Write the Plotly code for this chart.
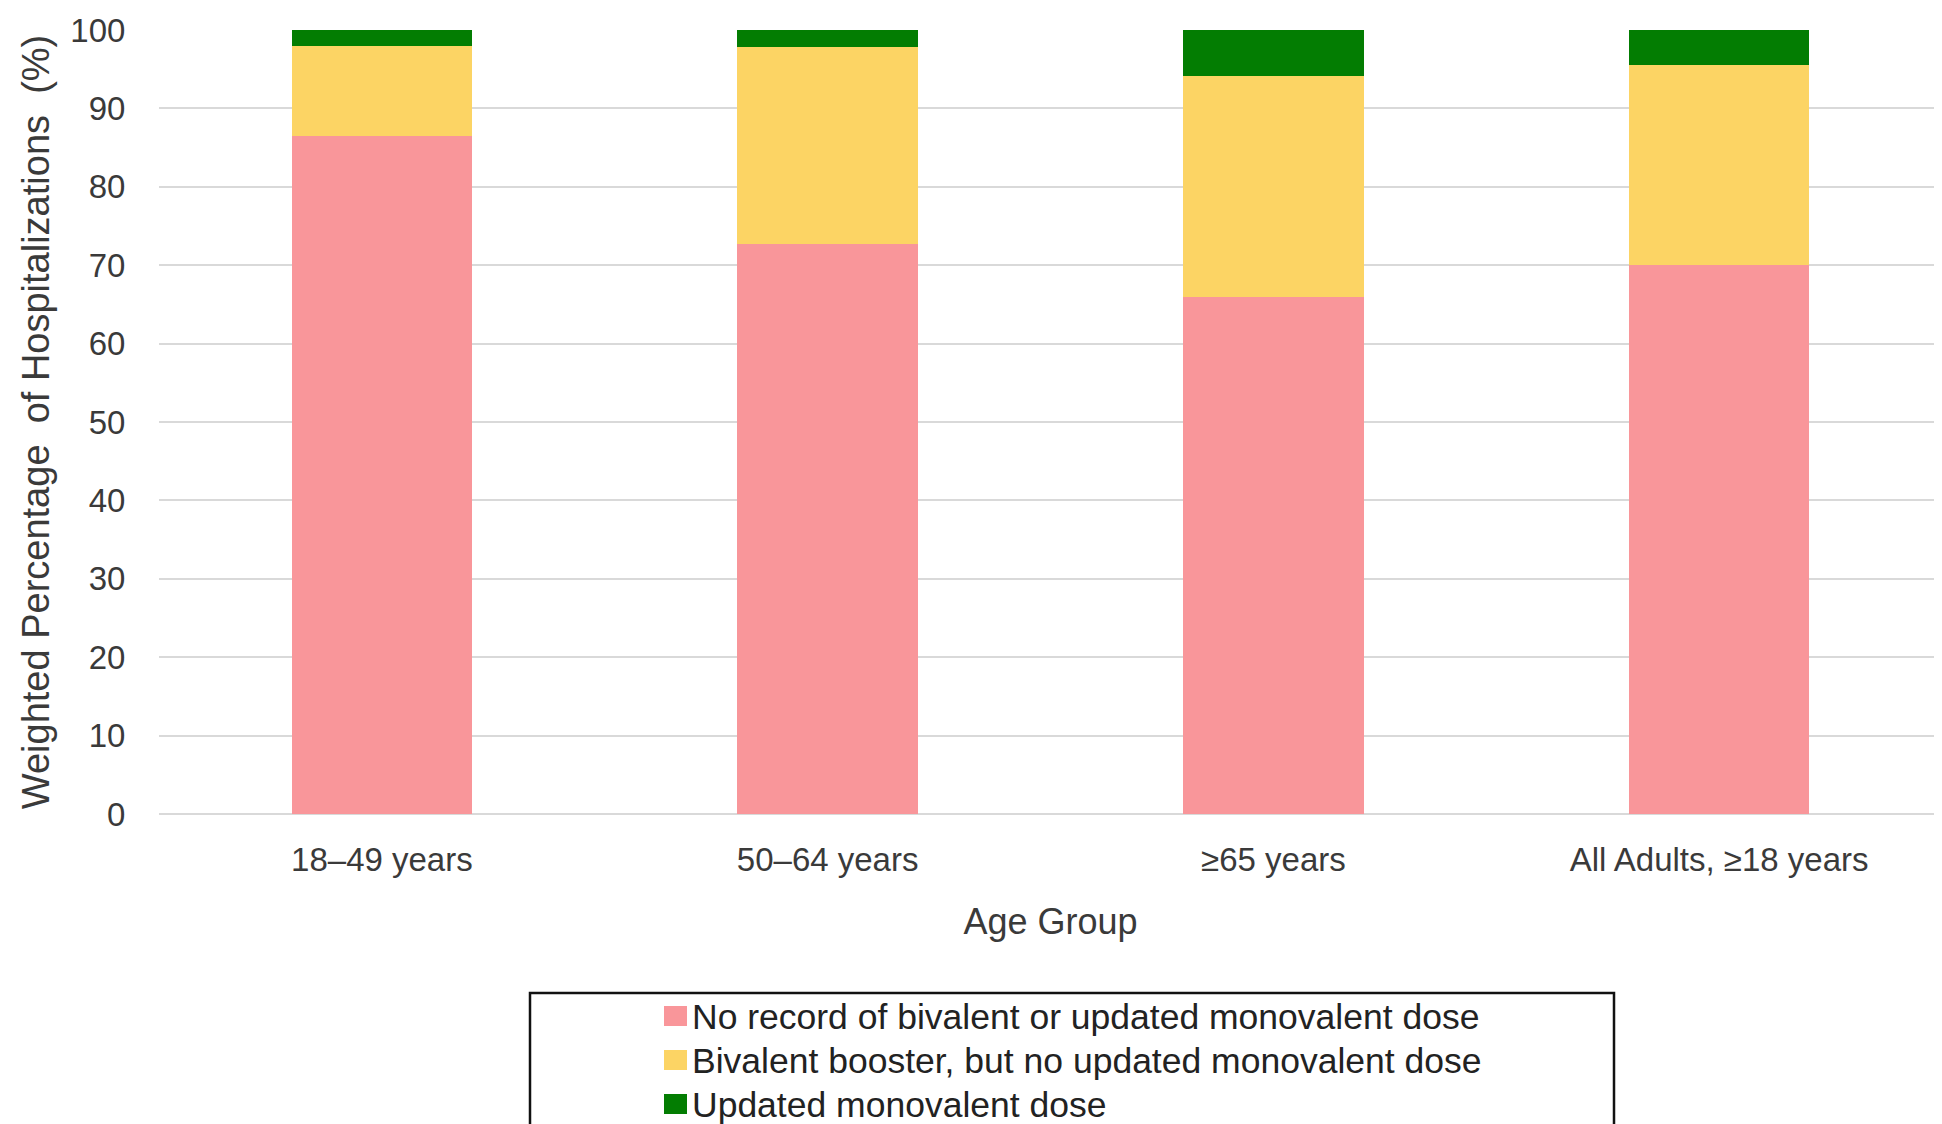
import plotly.graph_objects as go

categories = ["18–49 years", "50–64 years", "≥65 years", "All Adults, ≥18 years"]
series_names = [
    "No record of bivalent or updated monovalent dose",
    "Bivalent booster, but no updated monovalent dose",
    "Updated monovalent dose",
]
no_record = [86.5, 72.7, 66.0, 70.0]
bivalent_only = [11.4, 25.1, 28.1, 25.6]
updated_mono = [2.1, 2.2, 5.9, 4.4]
colors = ["#F9969A", "#FCD464", "#037D02"]
y_ticks = [0, 10, 20, 30, 40, 50, 60, 70, 80, 90, 100]

OFF = 8  # default page body margin
W, H = 1942 - OFF, 1124 - OFF
ML, MR, MT, MB = 151, 0, 22, 310
FONT = "Liberation Sans, Arial, sans-serif"
TXT = "#3a3a3a"

fig = go.Figure()
for i, (name, vals) in enumerate(zip(series_names, [no_record, bivalent_only, updated_mono])):
    fig.add_trace(go.Bar(
        x=categories, y=vals, name=name, marker_color=colors[i],
        marker_line_width=0, showlegend=False,
    ))

pw = W - ML - MR
ph = H - MT - MB

def px_x(x):
    return (x - OFF - ML) / pw

def px_y(y):
    return (H - MB - (y - OFF)) / ph

# custom legend (box + swatches + labels), laid out in page pixels
shapes = [dict(
    type="rect", xref="paper", yref="paper",
    x0=px_x(530), x1=px_x(1614), y0=px_y(1150), y1=px_y(993),
    line=dict(color="#111111", width=2.5), fillcolor="rgba(0,0,0,0)", layer="below",
)]
annotations = []
row_centers = [1016, 1060, 1104]
for i, name in enumerate(series_names):
    rc = row_centers[i]
    shapes.append(dict(
        type="rect", xref="paper", yref="paper",
        x0=px_x(664), x1=px_x(687), y0=px_y(rc + 10), y1=px_y(rc - 10),
        line=dict(width=0), fillcolor=colors[i], layer="above",
    ))
    annotations.append(dict(
        xref="paper", yref="paper", x=px_x(690), y=px_y(rc + 1),
        xanchor="left", yanchor="middle", showarrow=False, text=name,
        font=dict(family=FONT, size=35.5, color="#222222"),
    ))

fig.update_layout(
    width=W, height=H,
    margin=dict(l=ML, r=MR, t=MT, b=MB, pad=0, autoexpand=False),
    barmode="stack", bargap=0.595,
    plot_bgcolor="white", paper_bgcolor="white",
    font=dict(family=FONT, size=33, color=TXT),
    showlegend=False,
    shapes=shapes, annotations=annotations,
)
fig.update_xaxes(
    showgrid=False, showline=False, zeroline=False, automargin=False,
    ticks="outside", ticklen=16, tickcolor="rgba(0,0,0,0)",
    tickfont=dict(size=33, color=TXT),
    title=dict(text="Age Group", font=dict(size=36, color=TXT), standoff=32),
)
fig.update_yaxes(
    range=[0, 100], tickvals=y_ticks, automargin=False,
    showgrid=True, gridcolor="#D9D9D9", gridwidth=2,
    zeroline=True, zerolinecolor="#D9D9D9", zerolinewidth=2,
    showline=False,
    ticks="outside", ticklen=26, tickcolor="rgba(0,0,0,0)",
    tickfont=dict(size=33, color=TXT),
    title=dict(text="Weighted Percentage  of Hospitalizations  (%)", font=dict(size=38, color=TXT), standoff=9),
)

fig.write_html("out.html")
